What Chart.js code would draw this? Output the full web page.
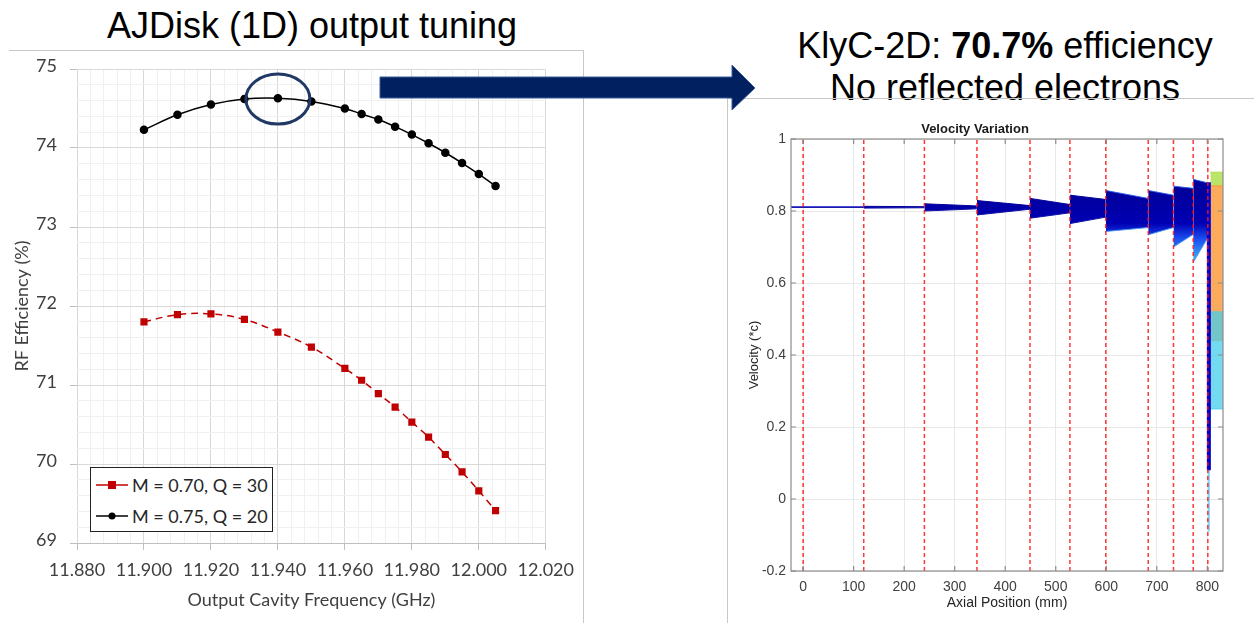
<!DOCTYPE html>
<html>
<head>
<meta charset="utf-8">
<script src="https://cdn.jsdelivr.net/npm/chart.js@4.4.1/dist/chart.umd.min.js"></script>
<style>
  body { margin: 0; background: #fff; }
  #page { position: relative; width: 1254px; height: 623px; overflow: hidden; background: #fff; }
  .slide-title {
    position: absolute; transform: translateX(-50%); white-space: nowrap;
    font-family: "Liberation Sans", Arial, sans-serif;
    font-size: 36px; line-height: 1; color: #000;
  }
  .rule { position: absolute; background: #c8c8c8; }
  #tuningBox { position: absolute; left: 0; top: 50px; width: 583px; height: 573px; }
  #velocityBox { position: absolute; left: 727px; top: 98px; width: 527px; height: 525px; }
  #legend {
    position: absolute; left: 90px; top: 467px; width: 181px; height: 63px;
    border: 1.5px solid #222; background: #fff;
    font-family: Lato, "Open Sans", sans-serif; font-size: 18px; color: #262626;
  }
  #legend .row { position: absolute; left: 5px; height: 24px; display: flex; align-items: center; }
  #legend svg { margin-right: 4px; }
  #overlay { position: absolute; left: 0; top: 0; width: 1254px; height: 623px; pointer-events: none; }
</style>
</head>
<body>
<div id="page">
  <div class="slide-title" style="left:312px; top:8px;">AJDisk (1D) output tuning</div>
  <div class="slide-title" style="left:1005px; top:28px;">KlyC-2D: <b>70.7%</b> efficiency</div>
  <div class="slide-title" style="left:1005px; top:70px;">No reflected electrons</div>

  <div class="rule" style="left:9px; top:50px; width:574px; height:1px;"></div>
  <div class="rule" style="left:583px; top:50px; width:1px; height:573px;"></div>
  <div class="rule" style="left:727px; top:98px; width:527px; height:1px;"></div>
  <div class="rule" style="left:727px; top:98px; width:1px; height:525px;"></div>

  <div id="tuningBox"><canvas id="tuning" width="583" height="573"></canvas></div>
  <div id="velocityBox"><canvas id="velocity" width="527" height="525"></canvas></div>

  <div id="legend">
    <div class="row" style="top:5px;">
      <svg width="32" height="12"><line x1="0" y1="6" x2="32" y2="6" stroke="#c00000" stroke-width="1.5"/><rect x="12" y="2" width="8" height="8" fill="#c00000"/></svg>
      <span id="leg0"></span>
    </div>
    <div class="row" style="top:36px;">
      <svg width="32" height="12"><line x1="0" y1="6" x2="32" y2="6" stroke="#000" stroke-width="1.5"/><circle cx="16" cy="6" r="3.5" fill="#000"/></svg>
      <span id="leg1"></span>
    </div>
  </div>

  <svg id="overlay">
    <polygon points="380,77 732,77 732,65 755,88 732,110 732,98 380,98" fill="#00205f" stroke="#3a5a9a" stroke-width="1"/>
  </svg>
</div>

<script>
// left: AJDisk output cavity tuning
const seriesLabels = ["M = 0.70, Q = 30", "M = 0.75, Q = 20"];
const freqGHz = [11.900, 11.910, 11.920, 11.930, 11.940, 11.950, 11.960, 11.965,
                 11.970, 11.975, 11.980, 11.985, 11.990, 11.995, 12.000, 12.005];
const effM070Q30 = [71.80, 71.89, 71.90, 71.83, 71.67, 71.48, 71.21, 71.06,
                    70.89, 70.72, 70.53, 70.34, 70.12, 69.90, 69.66, 69.41];
const effM075Q20 = [74.23, 74.42, 74.55, 74.62, 74.63, 74.59, 74.50, 74.43,
                    74.36, 74.27, 74.17, 74.06, 73.94, 73.81, 73.67, 73.52];
const markFreq = 11.940;
const markEff = 74.62;

// right: KlyC-2D velocity variation
const cavityPos = [0, 120, 240, 344, 449, 528, 599, 683, 733, 772, 801];
const driftStart = [-24, 120, 240, 344, 449, 528, 599, 683, 733, 772];
const driftEnd = [120, 240, 344, 449, 528, 599, 683, 733, 772, 801];
const vTopStart = [0.812, 0.813, 0.820, 0.829, 0.835, 0.844, 0.857, 0.857, 0.869, 0.888];
const vTopEnd = [0.812, 0.812, 0.814, 0.815, 0.818, 0.832, 0.835, 0.844, 0.863, 0.878];
const vLowStart = [0.810, 0.808, 0.800, 0.789, 0.780, 0.765, 0.743, 0.734, 0.700, 0.657];
const vLowEnd = [0.810, 0.809, 0.806, 0.805, 0.795, 0.783, 0.754, 0.754, 0.735, 0.726];
const exitPos = 803;
const exitCore = [0.88, 0.08];
const exitHalo = [0.08, -0.09];
const tailPos = [806, 831];
const tailCyan = [0.25, 0.52];
const tailOrange = [0.44, 0.87];
const tailYellow = [0.87, 0.908];

document.getElementById("leg0").textContent = seriesLabels[0];
document.getElementById("leg1").textContent = seriesLabels[1];

const isMajor = (v, step) => Math.abs(v / step - Math.round(v / step)) < 1e-6;
const excelFont = { family: "Lato", size: 18 };

const circleMark = {
  id: "circleMark",
  afterDatasetsDraw(chart) {
    const { ctx, scales: { x, y } } = chart;
    ctx.save();
    ctx.beginPath();
    ctx.ellipse(x.getPixelForValue(markFreq), y.getPixelForValue(markEff), 32, 25, 0, 0, Math.PI * 2);
    ctx.lineWidth = 3;
    ctx.strokeStyle = "#1f3864";
    ctx.stroke();
    ctx.restore();
  },
};

new Chart(document.getElementById("tuning"), {
  type: "line",
  data: {
    datasets: [
      {
        label: seriesLabels[0],
        data: freqGHz.map((f, i) => ({ x: f, y: effM070Q30[i] })),
        borderColor: "#c00000",
        backgroundColor: "#c00000",
        borderDash: [7, 5],
        borderWidth: 1.5,
        pointStyle: "rect",
        pointRadius: 4,
        tension: 0.4,
      },
      {
        label: seriesLabels[1],
        data: freqGHz.map((f, i) => ({ x: f, y: effM075Q20[i] })),
        borderColor: "#000",
        backgroundColor: "#000",
        borderWidth: 1.5,
        pointStyle: "circle",
        pointRadius: 3.5,
        tension: 0.4,
      },
    ],
  },
  options: {
    responsive: false,
    animation: false,
    devicePixelRatio: 1,
    layout: { padding: { left: 0, top: 19, right: 31, bottom: 0 } },
    plugins: { legend: { display: false }, tooltip: { enabled: false } },
    scales: {
      x: {
        type: "linear",
        min: 11.88,
        max: 12.02,
        afterFit: (s) => { s.height = 80; },
        ticks: {
          stepSize: 0.004,
          autoSkip: false,
          maxRotation: 0,
          includeBounds: false,
          padding: 9,
          color: "#404040",
          font: excelFont,
          callback: (v) => (isMajor(v, 0.02) ? v.toFixed(3) : ""),
        },
        grid: {
          color: (c) => (c.tick && isMajor(c.tick.value, 0.02) ? "#d9d9d9" : "#f0f0f0"),
          tickColor: (c) => (c.tick && isMajor(c.tick.value, 0.02) ? "#bfbfbf" : "rgba(0,0,0,0)"),
          tickLength: 7,
        },
        border: { color: "#bfbfbf" },
        title: {
          display: true,
          text: "Output Cavity Frequency (GHz)",
          color: "#404040",
          font: excelFont,
          padding: { top: 0, bottom: 12 },
        },
      },
      y: {
        min: 69,
        max: 75,
        afterFit: (s) => { s.width = 77; s.paddingTop = 0; s.paddingBottom = 0; },
        ticks: {
          stepSize: 0.2,
          autoSkip: false,
          includeBounds: false,
          padding: 13,
          labelOffset: -3,
          color: "#404040",
          font: excelFont,
          callback: (v) => (isMajor(v, 1) ? String(Math.round(v)) : ""),
        },
        grid: {
          color: (c) => (c.tick && isMajor(c.tick.value, 1) ? "#d9d9d9" : "#f0f0f0"),
          tickColor: (c) => (c.tick && isMajor(c.tick.value, 1) ? "#bfbfbf" : "rgba(0,0,0,0)"),
          tickLength: 7,
        },
        border: { display: false },
        title: {
          display: true,
          text: "RF Efficiency (%)",
          color: "#404040",
          font: excelFont,
          padding: { top: 11, bottom: 0 },
        },
      },
    },
  },
  plugins: [circleMark],
});

// MATLAB-style box with inward ticks
const matlabBox = {
  id: "matlabBox",
  afterDraw(chart) {
    const { ctx, chartArea: a, scales: { x, y } } = chart;
    ctx.save();
    ctx.strokeStyle = "#8c8c8c";
    ctx.lineWidth = 1.2;
    ctx.strokeRect(a.left, a.top, a.right - a.left, a.bottom - a.top);
    ctx.beginPath();
    x.ticks.forEach((t) => {
      const px = x.getPixelForValue(t.value);
      ctx.moveTo(px, a.bottom); ctx.lineTo(px, a.bottom - 5);
      ctx.moveTo(px, a.top); ctx.lineTo(px, a.top + 5);
    });
    y.ticks.forEach((t) => {
      const py = y.getPixelForValue(t.value);
      ctx.moveTo(a.left, py); ctx.lineTo(a.left + 5, py);
      ctx.moveTo(a.right, py); ctx.lineTo(a.right - 5, py);
    });
    ctx.stroke();
    ctx.restore();
  },
};

// beam colour: dark blue core, lighter blue/cyan for the slowest electrons
const beamFill = (c) => {
  const { chart } = c;
  const y = chart.scales.y;
  if (!y || !chart.chartArea) return "#00009a";
  const g = chart.ctx.createLinearGradient(0, y.getPixelForValue(0.86), 0, y.getPixelForValue(0.65));
  g.addColorStop(0, "#00009a");
  g.addColorStop(0.45, "#0000b4");
  g.addColorStop(0.65, "#1a4cf0");
  g.addColorStop(1, "#48c8f0");
  return g;
};

const velocitySets = [];
cavityPos.forEach((p) => {
  velocitySets.push({
    data: [{ x: p, y: -0.2 }, { x: p, y: 1 }],
    borderColor: "rgba(255,20,20,0.85)",
    borderDash: [4, 3],
    borderWidth: 1.5,
    pointRadius: 0,
    fill: false,
  });
});
velocitySets.push({
  data: [{ x: exitPos, y: exitCore[0] }, { x: exitPos, y: exitCore[1] }],
  borderColor: "#0000c8", borderWidth: 4, pointRadius: 0, fill: false,
});
velocitySets.push({
  data: [{ x: exitPos, y: exitHalo[0] }, { x: exitPos, y: exitHalo[1] }],
  borderColor: "#7fd8ff", borderWidth: 2, pointRadius: 0, fill: false,
});
driftStart.forEach((s, i) => {
  const e = driftEnd[i];
  velocitySets.push({
    data: [{ x: s, y: vLowStart[i] }, { x: e, y: vLowEnd[i] }],
    borderColor: i < 6 ? "#1010a8" : "rgba(70,150,245,0.9)", borderWidth: 1, pointRadius: 0, fill: false,
  });
  velocitySets.push({
    data: [{ x: s, y: vTopStart[i] }, { x: e, y: vTopEnd[i] }],
    borderColor: i === 0 ? "#3a3ad8" : i < 6 ? "#00009a" : "rgba(40,90,235,0.9)", borderWidth: 1, pointRadius: 0,
    fill: "-1", backgroundColor: beamFill,
  });
});
[[tailCyan, "rgba(70,205,235,0.75)"], [tailOrange, "rgba(250,150,50,0.8)"], [tailYellow, "rgba(175,225,80,0.85)"]].forEach(([band, col]) => {
  velocitySets.push({
    data: tailPos.map((x) => ({ x, y: band[0] })),
    borderColor: col, borderWidth: 1, pointRadius: 0, fill: false,
  });
  velocitySets.push({
    data: tailPos.map((x) => ({ x, y: band[1] })),
    borderColor: col, borderWidth: 1, pointRadius: 0, fill: "-1", backgroundColor: col,
  });
});

const matlabFont = { family: "Liberation Sans", size: 14 };
new Chart(document.getElementById("velocity"), {
  type: "line",
  data: { datasets: velocitySets },
  options: {
    responsive: false,
    animation: false,
    devicePixelRatio: 1,
    layout: { padding: { left: 0, top: 0, right: 31, bottom: 0 } },
    plugins: {
      legend: { display: false },
      tooltip: { enabled: false },
      title: {
        display: true,
        text: "Velocity Variation",
        color: "#1a1a1a",
        font: { family: "Liberation Sans", size: 13, weight: "bold" },
        padding: { top: 24, bottom: 1.4 },
      },
    },
    scales: {
      x: {
        type: "linear",
        min: -24,
        max: 831,
        afterFit: (s) => { s.height = 52; },
        ticks: { stepSize: 100, includeBounds: false, maxRotation: 0, padding: 8, color: "#404040", font: matlabFont },
        grid: { color: "#e8e8e8", drawTicks: false },
        border: { display: false },
        title: {
          display: true, text: "Axial Position (mm)", color: "#262626", font: matlabFont,
          padding: { top: 0, bottom: 11.6 },
        },
      },
      y: {
        min: -0.2,
        max: 1,
        afterFit: (s) => { s.width = 64; },
        ticks: {
          stepSize: 0.2, includeBounds: false, padding: 5, color: "#404040", font: matlabFont,
          callback: (v) => (Math.abs(v) < 1e-9 ? "0" : String(+v.toFixed(1))),
        },
        grid: { color: "#e8e8e8", drawTicks: false },
        border: { display: false },
        title: {
          display: true, text: "Velocity (*c)", color: "#262626",
          font: { family: "Liberation Sans", size: 13 },
          padding: { top: 20, bottom: 0 },
        },
      },
    },
  },
  plugins: [matlabBox],
});
</script>
</body>
</html>
